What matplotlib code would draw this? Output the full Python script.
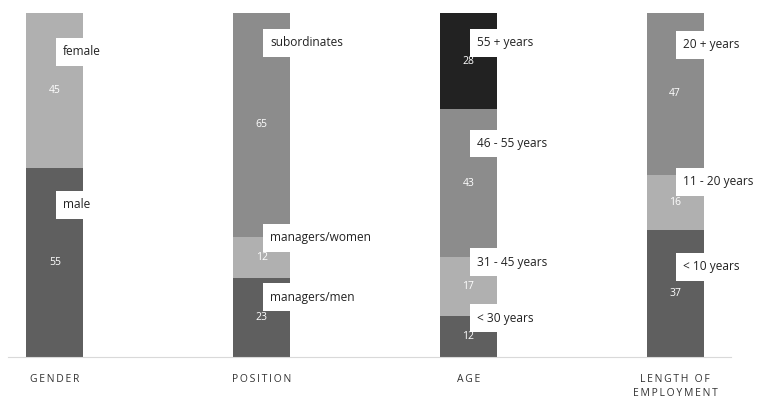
import matplotlib
matplotlib.use("Agg")
import matplotlib.pyplot as plt
import numpy as np

plt.rcParams['font.family'] = ['Open Sans', 'DejaVu Sans']

categories = ["GENDER", "POSITION", "AGE", "LENGTH OF\nEMPLOYMENT"]

# stacked segments, bottom to top
segments = [
    [55, 45],
    [23, 12, 65],
    [12, 17, 43, 28],
    [37, 16, 47],
]
seg_names = [
    ["male", "female"],
    ["managers/men", "managers/women", "subordinates"],
    ["< 30 years", "31 - 45 years", "46 - 55 years", "55 + years"],
    ["< 10 years", "11 - 20 years", "20 + years"],
]
seg_colors = [
    ["#5f5f5f", "#b0b0b0"],
    ["#5f5f5f", "#b0b0b0", "#8c8c8c"],
    ["#5f5f5f", "#b0b0b0", "#8c8c8c", "#222222"],
    ["#5f5f5f", "#b0b0b0", "#8c8c8c"],
]
# heights where the callout labels sit
label_y = [
    [44.2, 88.7],
    [17.4, 34.6, 91.3],
    [11.3, 27.6, 62.0, 91.3],
    [26.2, 50.9, 90.7],
]

fig = plt.figure(figsize=(7.57, 3.98), dpi=100)
ax = fig.add_axes([8/757, 41/398, 723/757, 344/398])
width = 0.276
xPos = np.arange(len(categories))

for i in range(len(categories)):
    bottom = 0
    for val, name, col, ly in zip(segments[i], seg_names[i], seg_colors[i], label_y[i]):
        ax.bar(xPos[i], val, width, bottom=bottom, color=col, linewidth=0)
        ax.text(xPos[i], bottom + val/2., str(val), ha='center', va='center',
                color='white', fontsize=7.5)
        ax.text(xPos[i] + 0.04, ly, name, ha='left', va='center', fontsize=8.6,
                color='#222222', zorder=5,
                bbox=dict(boxstyle='square,pad=0.6', fc='white', ec='none'))
        bottom += val

ax.set_xlim(-0.227, 3.27)
ax.set_ylim(0, 100)
for s in ['top', 'right', 'left']:
    ax.spines[s].set_visible(False)
ax.spines['bottom'].set_color('#d9d9d9')
ax.set_yticks([])
ax.set_xticks(xPos)
spaced = ["\u2009".join(c) for c in categories]
spaced = [s.replace("\u2009\n\u2009", "\n") for s in spaced]
ax.set_xticklabels(spaced, fontsize=7.5, color='#333333', linespacing=1.4)
ax.tick_params(axis='x', length=0, pad=12)

fig.savefig("out.png", dpi=100)
